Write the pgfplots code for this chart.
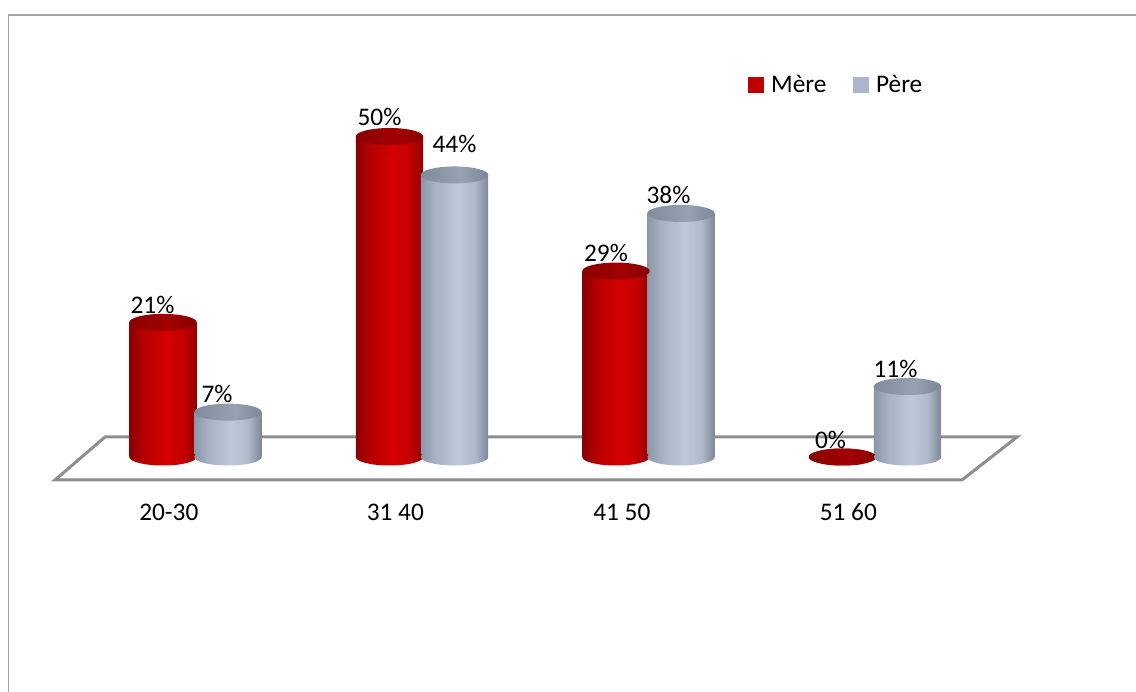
\documentclass[border=0pt]{standalone}
\usepackage{pgfplots}
\usepackage{pgfplotstable}
\pgfplotsset{compat=1.18}
\usepackage{fontspec}
\setmainfont{Carlito}
\usetikzlibrary{shapes.geometric}

\definecolor{framegray}{HTML}{A3A3A3}
\definecolor{floorgray}{HTML}{8E8E8E}
\definecolor{mere}{HTML}{C00000}
\definecolor{pere}{HTML}{A9B6CC}

% cylinder bodies: dark rims, highlight a little right of centre
\definecolor{mA}{HTML}{880000}\definecolor{mB}{HTML}{B40000}
\definecolor{mC}{HTML}{D60000}\definecolor{mD}{HTML}{C40000}
\definecolor{mE}{HTML}{920000}
\pgfdeclarehorizontalshading{merebody}{100bp}{color(0bp)=(mA); color(25bp)=(mA);
  color(35bp)=(mB); color(53bp)=(mC); color(65bp)=(mD); color(75bp)=(mE); color(100bp)=(mE)}
\definecolor{pA}{HTML}{8A95A6}\definecolor{pB}{HTML}{A6B1C4}
\definecolor{pC}{HTML}{BDC8DA}\definecolor{pD}{HTML}{AEB9CB}
\definecolor{pE}{HTML}{7D8797}
\pgfdeclarehorizontalshading{perebody}{100bp}{color(0bp)=(pA); color(25bp)=(pA);
  color(35bp)=(pB); color(53bp)=(pC); color(65bp)=(pD); color(75bp)=(pE); color(100bp)=(pE)}
% cylinder lids
\definecolor{mtA}{HTML}{8A0000}\definecolor{mtB}{HTML}{A20000}\definecolor{mtC}{HTML}{880000}
\pgfdeclarehorizontalshading{meretop}{100bp}{color(0bp)=(mtA); color(25bp)=(mtA);
  color(55bp)=(mtB); color(75bp)=(mtC); color(100bp)=(mtC)}
\definecolor{ptA}{HTML}{808B9B}\definecolor{ptB}{HTML}{96A1B2}\definecolor{ptC}{HTML}{7C8696}
\pgfdeclarehorizontalshading{peretop}{100bp}{color(0bp)=(ptA); color(25bp)=(ptA);
  color(55bp)=(ptB); color(75bp)=(ptC); color(100bp)=(ptC)}

% x: category position, y: percentage, dx/dy: label offset in px
\pgfplotstableread{
x y dx dy
-0.1435 21 -10.5 17.5
0.8565 50 -10 19.5
1.8565 29 -10 18
2.8565 0 -12 17
}\meredata
\pgfplotstableread{
x y dx dy
0.1435 7 -11 18
1.1435 44 0 31
2.1435 38 -12.5 18
3.1435 11 -12 18
}\peredata

\pgfplotsset{
  cylend/.style={draw=none, forget plot, nodes near coords={},
    nodes near coords align=center,
    every node near coord/.append style={ellipse, shade, shading=#1,
      minimum width=50.6pt, minimum height=12.75pt, inner sep=0pt, anchor=center}},
  cylbody/.style={ybar, bar width=50.6pt, bar shift=0pt, draw=none, shade,
    shading=#1, forget plot},
  onlyrow/.style={x filter/.expression={\coordindex==#1 ? x : nan}},
  cyllabel/.style={draw=none, forget plot,
    visualization depends on={\thisrow{dx} \as \dx},
    visualization depends on={\thisrow{dy} \as \dy},
    nodes near coords={\pgfmathprintnumber{\pgfplotspointmeta}\%},
    nodes near coords align=center,
    every node near coord/.append style={anchor=center, inner sep=0pt,
      xshift=\dx*0.75pt, yshift=\dy*0.75pt, text=black}},
}

\begin{document}
\begin{tikzpicture}[font=\fontsize{19pt}{23pt}\selectfont]
\path[use as bounding box] (0,0) rectangle (852pt,519pt);
% chart frame
\draw[framegray, line width=1.4pt] (6.4pt,-2pt) -- (6.4pt,507.75pt) -- (854pt,507.75pt);
% floor
\draw[floorgray, line width=2.25pt, line join=miter]
  (41.25pt,159pt) -- (721.5pt,159pt) -- (762.75pt,191.25pt) -- (78.75pt,191.25pt) -- cycle;
\begin{axis}[
  at={(61.69pt,176.25pt)}, anchor=south west,
  scale only axis, width=679.5pt, height=288.45pt,
  xmin=-0.5, xmax=3.5, ymin=0, ymax=60,
  clip=false,
  axis lines*=left, axis line style={draw=none}, tick style={draw=none},
  ytick=\empty,
  xtick={0,1,2,3},
  xticklabels={20-30,31 40,41 50,51 60},
  xticklabel style={anchor=base, inner sep=0pt, xshift=-20pt, yshift=-48pt},
  /pgf/number format/assume math mode=true,
  legend style={draw=none, fill=none, inner sep=0pt, anchor=west,
    at={(0.7348,0.967)}, legend columns=2,
    /tikz/every odd column/.append style={column sep=3.5pt},
    /tikz/every even column/.append style={column sep=18pt}},
]
% Mère: floor ellipse, body, lid — one bar per plot so each gets its own shading
\pgfplotsinvokeforeach{0,...,3}{
  \addplot[cylend=merebody, onlyrow=#1] table[x=x, y expr=0] {\meredata};
  \addplot[cylbody=merebody, onlyrow=#1] table[x=x, y=y] {\meredata};
  \addplot[cylend=meretop, onlyrow=#1] table[x=x, y=y] {\meredata};
}
% Père
\pgfplotsinvokeforeach{0,...,3}{
  \addplot[cylend=perebody, onlyrow=#1] table[x=x, y expr=0] {\peredata};
  \addplot[cylbody=perebody, onlyrow=#1] table[x=x, y=y] {\peredata};
  \addplot[cylend=peretop, onlyrow=#1] table[x=x, y=y] {\peredata};
}
% value labels
\addplot[cyllabel] table[x=x, y=y] {\meredata};
\addplot[cyllabel] table[x=x, y=y] {\peredata};

\addlegendimage{legend image code/.code={\fill[mere] (0pt,-5.6pt) rectangle (11.25pt,5.6pt);}}
\addlegendentry{Mère}
\addlegendimage{legend image code/.code={\fill[pere] (0pt,-5.6pt) rectangle (11.25pt,5.6pt);}}
\addlegendentry{Père}
\end{axis}
\end{tikzpicture}
\end{document}
